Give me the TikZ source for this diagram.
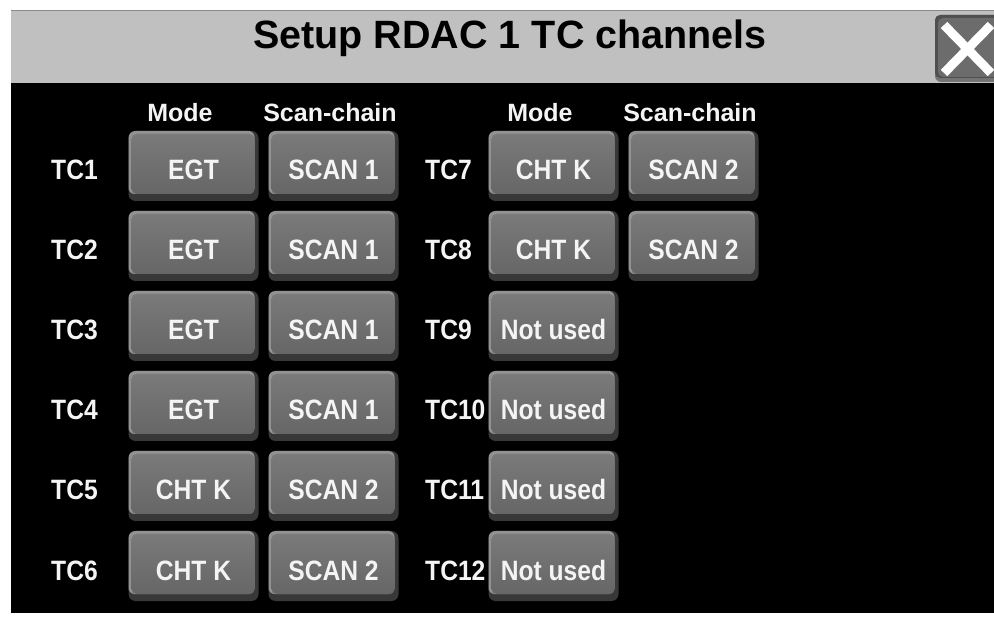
\documentclass[tikz,border=0pt]{standalone}
\usepackage{fontspec}
\setmainfont{Liberation Sans}
\newfontfamily\narrowsans{Liberation Sans}[FakeStretch=0.88]
\definecolor{barfill}{HTML}{C0C0C0}
\definecolor{barline}{HTML}{8A8A8A}
\definecolor{btnfacetop}{HTML}{7A7A7A}
\definecolor{btnfacebot}{HTML}{666666}
\definecolor{btnlight}{HTML}{929292}
\definecolor{btnshadow}{HTML}{383838}
\definecolor{btntext}{HTML}{F4F4F4}
\definecolor{closeface}{HTML}{6C6C6C}
\begin{document}
\begin{tikzpicture}[x=1pt,y=-1pt,
  btn/.style={rectangle, rounded corners=7pt, minimum width=130pt, minimum height=70pt,
    inner sep=0pt, fill=btnshadow, text=btntext, text height=28pt, text depth=0pt,
    font=\narrowsans\bfseries\fontsize{28}{30}\selectfont,
    path picture={
      \fill[btnlight, rounded corners=6pt] (path picture bounding box.north west)
        rectangle ([xshift=-4pt,yshift=7pt]path picture bounding box.south east);
      \shade[top color=btnfacetop, bottom color=btnfacebot, rounded corners=5pt]
        ([xshift=3pt,yshift=-3pt]path picture bounding box.north west)
        rectangle ([xshift=-4pt,yshift=7pt]path picture bounding box.south east);
    }},
  tclabel/.style={anchor=base west, inner sep=0pt, text=btntext,
    font=\narrowsans\bfseries\fontsize{28}{30}\selectfont},
  colhead/.style={anchor=base, inner sep=0pt, text=btntext,
    font=\bfseries\fontsize{25}{27}\selectfont},
  titletext/.style={anchor=base, inner sep=0pt, text=black,
    font=\bfseries\fontsize{39.5}{42}\selectfont}
]
\useasboundingbox (0,0) rectangle (994,617);
\fill[white] (0,0) rectangle (994,617);

% panel and title bar
\fill[black] (11,83) rectangle (994,613);
\fill[barfill] (11,10) rectangle (994,83);
\draw[barline, line width=1.5pt] (11,10.75) -- (994,10.75);
\node[titletext] (title) at (510,49) {Setup RDAC 1 TC channels};

% close button
\fill[btnshadow!70, rounded corners=6pt] (935,15) rectangle (1004,82);
\fill[closeface!120!white, rounded corners=5pt] (935,15) rectangle (1004,78);
\fill[closeface, rounded corners=5pt] (938,18) rectangle (1004,77);
\coordinate (xa) at (944,25);
\coordinate (xb) at (991,73);
\coordinate (xc) at (991,25);
\coordinate (xd) at (944,73);
\draw[white, line width=9pt] (xa) -- (xb);
\draw[white, line width=9pt] (xc) -- (xd);

% column headings
\node[colhead] (hmodeL) at (180,122) {Mode};
\node[colhead] (hscanL) at (330,122) {Scan-chain};
\node[colhead] (hmodeR) at (540,122) {Mode};
\node[colhead] (hscanR) at (690,122) {Scan-chain};

% channels 1-6
\foreach \k/\ch/\mode/\scan [evaluate=\k as \yc using 166+80*\k,
                             evaluate=\k as \yb using 180+80*\k] in
  {0/1/EGT/SCAN 1, 1/2/EGT/SCAN 1, 2/3/EGT/SCAN 1, 3/4/EGT/SCAN 1,
   4/5/CHT K/SCAN 2, 5/6/CHT K/SCAN 2}{
  \node[tclabel] (tc\ch) at (51,\yb) {TC\ch};
  \node[btn] (mode\ch) at (193.5,\yc) {\mode};
  \node[btn] (scan\ch) at (333.5,\yc) {\scan};
}

% channels 7-12
\foreach \k/\ch/\mode [evaluate=\k as \yc using 166+80*\k,
                       evaluate=\k as \yb using 180+80*\k] in
  {0/7/CHT K, 1/8/CHT K, 2/9/Not used, 3/10/Not used, 4/11/Not used, 5/12/Not used}{
  \node[tclabel] (tc\ch) at (425,\yb) {TC\ch};
  \node[btn] (mode\ch) at (553.5,\yc) {\mode};
}
\node[btn] (scan7) at (693.5,166) {SCAN 2};
\node[btn] (scan8) at (693.5,246) {SCAN 2};
\end{tikzpicture}
\end{document}
